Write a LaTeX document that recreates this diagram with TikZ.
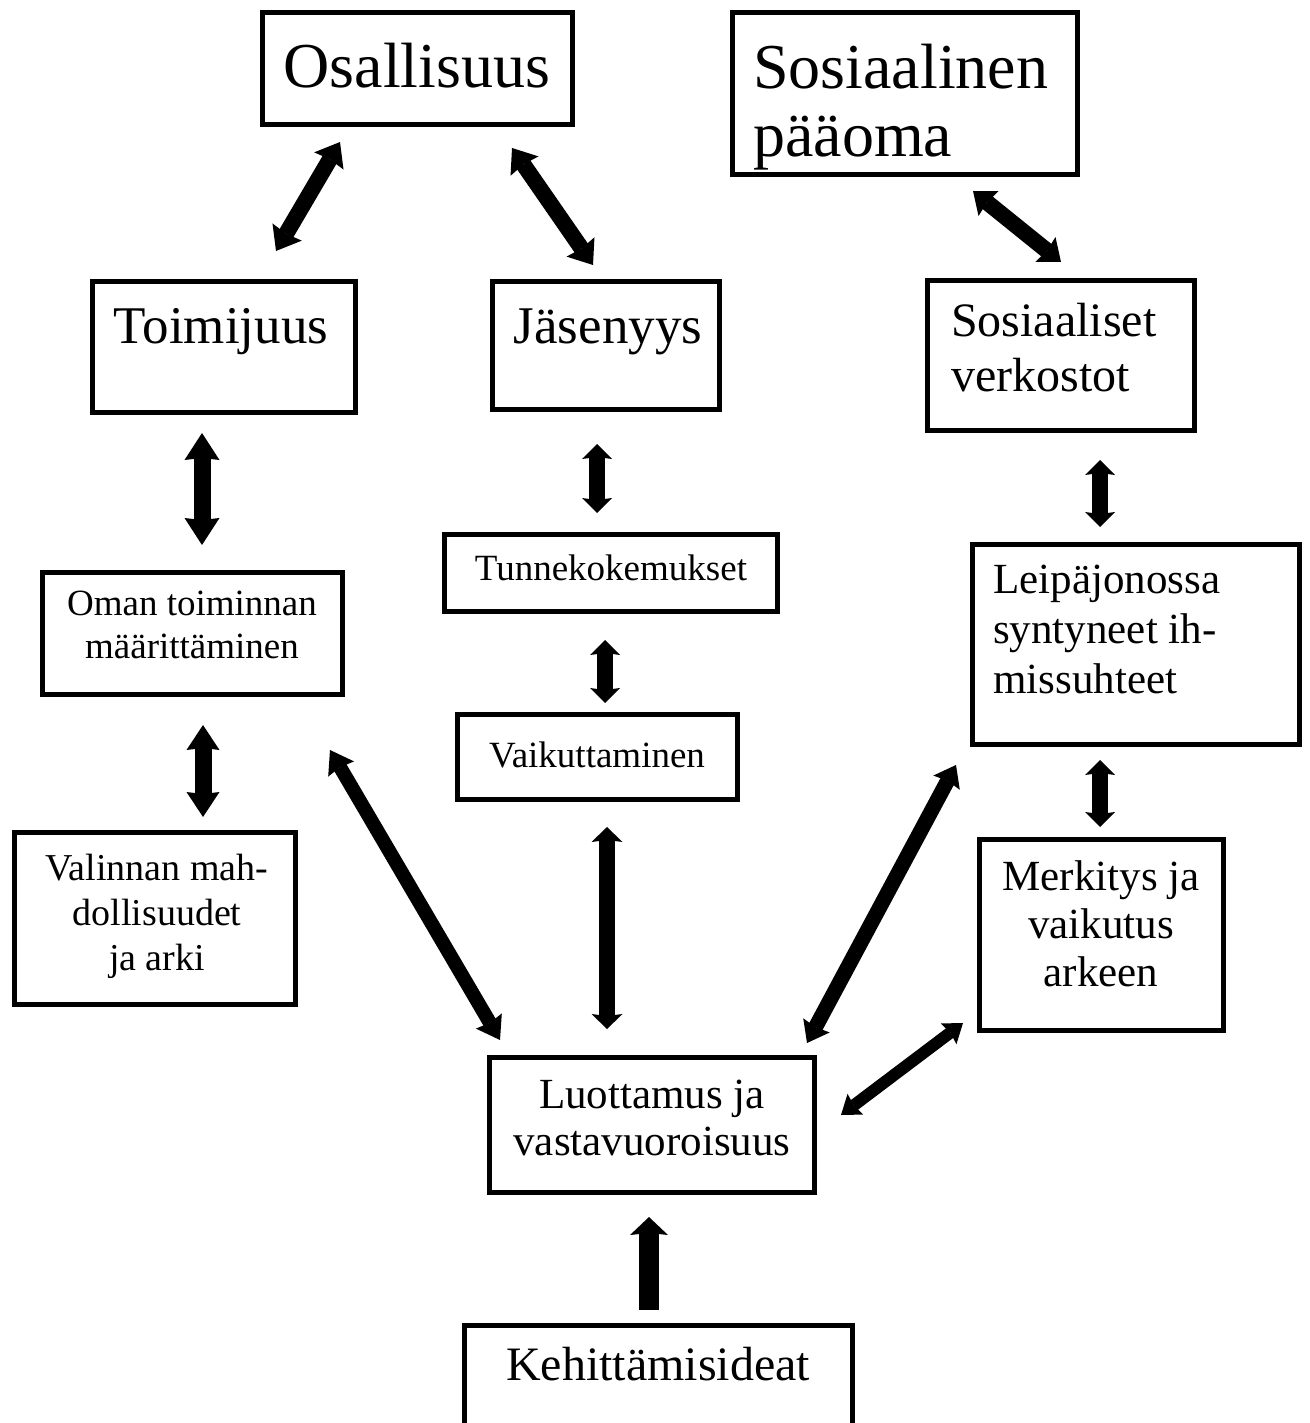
\documentclass[tikz,border=0pt]{standalone}
\usepackage{fontspec}
\setmainfont{Liberation Serif}
\usetikzlibrary{arrows.meta}
\tikzset{
  box/.style={draw=black, line width=5pt, rectangle, inner sep=0pt, fill=white},
  txt/.style={inner sep=0pt, anchor=base},
  ltxt/.style={inner sep=0pt, anchor=base west},
  dbl/.style n args={3}{line width=#1, draw=black,
    {Stealth[inset=2pt,line width=0pt,width=#2,length=#3]}-{Stealth[inset=2pt,line width=0pt,width=#2,length=#3]}},
  sgl/.style n args={3}{line width=#1, draw=black,
    -{Stealth[inset=2pt,line width=0pt,width=#2,length=#3]}}
}
\newcommand{\fsz}[2]{\fontsize{#1}{#2}\selectfont}
\begin{document}
\begin{tikzpicture}[x=1pt,y=-1pt]
\useasboundingbox (0,0) rectangle (1309,1423);
\clip (0,0) rectangle (1309,1423);
% boxes
\node[box, minimum width=310pt, minimum height=112pt] (osal) at (417.5,68.5) {};
\node[box, minimum width=345pt, minimum height=162pt] (sosp) at (905,93.5) {};
\node[box, minimum width=263pt, minimum height=131pt] (toim) at (224,347) {};
\node[box, minimum width=227pt, minimum height=128pt] (jase) at (606,345.5) {};
\node[box, minimum width=267pt, minimum height=150pt] (sosv) at (1061,355.5) {};
\node[box, minimum width=300pt, minimum height=122pt] (oman) at (192.5,633.5) {};
\node[box, minimum width=333pt, minimum height=77pt] (tunne) at (611,573) {};
\node[box, minimum width=280pt, minimum height=85pt] (vaik) at (597.5,757) {};
\node[box, minimum width=327pt, minimum height=200pt] (leipa) at (1136,644.5) {};
\node[box, minimum width=281pt, minimum height=172pt] (valin) at (155,918.5) {};
\node[box, minimum width=244pt, minimum height=191pt] (merk) at (1101.5,935) {};
\node[box, minimum width=325pt, minimum height=135pt] (luot) at (652,1125) {};
\node[box, minimum width=388pt, minimum height=172pt] (kehi) at (658.5,1411) {};
% texts
\node[txt] (tosal) at (417,88) {\fsz{64}{74}Osallisuus};
\node[ltxt] (tsosp) at (753,89) {\fsz{64}{68}\begin{tabular}[t]{@{}l@{}}Sosiaalinen\\pääoma\end{tabular}};
\node[txt] (ttoim) at (221,343) {\fsz{53}{60}Toimijuus};
\node[txt] (tjase) at (608,343) {\fsz{53}{60}Jäsenyys};
\node[ltxt] (tsosv) at (951,336) {\fsz{48}{55}\begin{tabular}[t]{@{}l@{}}Sosiaaliset\\verkostot\end{tabular}};
\node[txt] (toman) at (192,615) {\fsz{37}{43}\begin{tabular}[t]{@{}c@{}}Oman toiminnan\\määrittäminen\end{tabular}};
\node[txt] (ttunne) at (611,580) {\fsz{37}{43}Tunnekokemukset};
\node[txt] (tvaik) at (597,767) {\fsz{37}{43}Vaikuttaminen};
\node[ltxt] (tleipa) at (993,593) {\fsz{43}{50}\begin{tabular}[t]{@{}l@{}}Leipäjonossa\\syntyneet ih-\\missuhteet\end{tabular}};
\node[txt] (tvalin) at (157,880) {\fsz{38}{45}\begin{tabular}[t]{@{}c@{}}Valinnan mah-\\dollisuudet\\ja arki\end{tabular}};
\node[txt] (tmerk) at (1101,890) {\fsz{43}{48}\begin{tabular}[t]{@{}c@{}}Merkitys ja\\vaikutus\\arkeen\end{tabular}};
\node[txt] (tluot) at (652,1108) {\fsz{43}{47}\begin{tabular}[t]{@{}c@{}}Luottamus ja\\vastavuoroisuus\end{tabular}};
\node[txt] (tkehi) at (658,1380) {\fsz{48}{55}Kehittämisideat};
% arrow end points
\coordinate (a1s) at (340,142); \coordinate (a1e) at (276,251);
\coordinate (a2s) at (512,148); \coordinate (a2e) at (593,265);
\coordinate (a3s) at (973,191); \coordinate (a3e) at (1061,262);
\coordinate (a4s) at (202,433); \coordinate (a4e) at (202,545);
\coordinate (a5s) at (597,444); \coordinate (a5e) at (597,513);
\coordinate (a6s) at (605,640); \coordinate (a6e) at (605,703);
\coordinate (a7s) at (1100,460); \coordinate (a7e) at (1100,527);
\coordinate (a8s) at (1100,760); \coordinate (a8e) at (1100,827);
\coordinate (a9s) at (203,725); \coordinate (a9e) at (203,817);
\coordinate (a10s) at (330,750); \coordinate (a10e) at (500,1040);
\coordinate (a11s) at (607,827); \coordinate (a11e) at (607,1029);
\coordinate (a12s) at (956,765); \coordinate (a12e) at (807,1043);
\coordinate (a13s) at (963,1023); \coordinate (a13e) at (841,1115);
\coordinate (a14s) at (649,1310); \coordinate (a14e) at (649,1217);
% arrows
\draw[dbl={16pt}{34pt}{22pt}] (a1s) -- (a1e);
\draw[dbl={16pt}{34pt}{22pt}] (a2s) -- (a2e);
\draw[dbl={16pt}{32pt}{20pt}] (a3s) -- (a3e);
\draw[dbl={17pt}{35pt}{27pt}] (a4s) -- (a4e);
\draw[dbl={16pt}{30pt}{15pt}] (a5s) -- (a5e);
\draw[dbl={16pt}{30pt}{15pt}] (a6s) -- (a6e);
\draw[dbl={16pt}{30pt}{15pt}] (a7s) -- (a7e);
\draw[dbl={16pt}{30pt}{15pt}] (a8s) -- (a8e);
\draw[dbl={17pt}{33pt}{25pt}] (a9s) -- (a9e);
\draw[dbl={14pt}{30pt}{22pt}] (a10s) -- (a10e);
\draw[dbl={16pt}{31pt}{15pt}] (a11s) -- (a11e);
\draw[dbl={15pt}{30pt}{20pt}] (a12s) -- (a12e);
\draw[dbl={12pt}{26pt}{18pt}] (a13s) -- (a13e);
\draw[sgl={20pt}{38pt}{18pt}] (a14s) -- (a14e);
\end{tikzpicture}
\end{document}
